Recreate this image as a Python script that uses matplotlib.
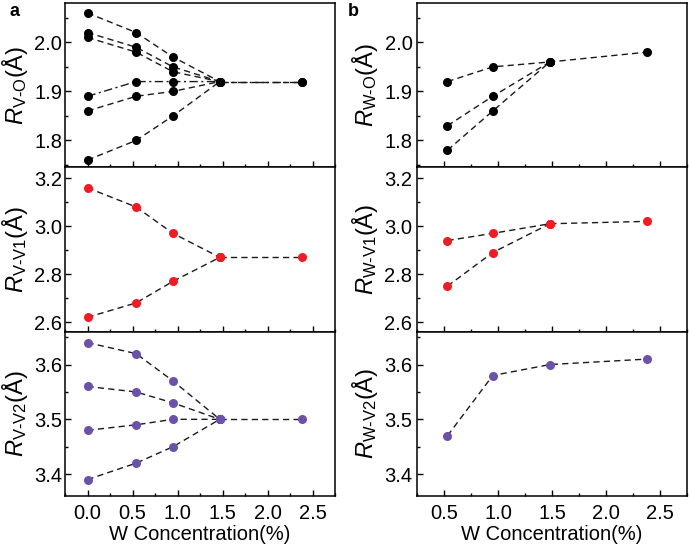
import matplotlib

matplotlib.use("Agg")
import matplotlib.pyplot as plt
from matplotlib.ticker import MultipleLocator, FormatStrFormatter

plt.rcParams["font.family"] = ["Liberation Sans", "DejaVu Sans"]
plt.rcParams["mathtext.fontset"] = "custom"
plt.rcParams["mathtext.rm"] = "Liberation Sans"
plt.rcParams["mathtext.it"] = "Liberation Sans:italic"

# --- panel a: V-centred distances vs W concentration ---
X_A = [0.0, 0.54, 0.95, 1.47]
X_A_TAIL = [1.47, 2.38]
VO_A = [
    [2.06, 2.02, 1.97, 1.92],
    [2.02, 1.99, 1.95, 1.92],
    [2.01, 1.98, 1.94, 1.92],
    [1.86, 1.89, 1.90, 1.92],
    [1.76, 1.80, 1.85, 1.92],
]
VO_A_DASHDOT = [1.89, 1.92, 1.92, 1.92]
VO_A_TAIL = [1.92, 1.92]
VV1_A = [
    [3.16, 3.08, 2.97, 2.87],
    [2.62, 2.68, 2.77, 2.87],
]
VV1_A_TAIL = [2.87, 2.87]
VV2_A = [
    [3.64, 3.62, 3.57, 3.50],
    [3.56, 3.55, 3.53, 3.50],
    [3.48, 3.49, 3.50, 3.50],
    [3.39, 3.42, 3.45, 3.50],
]
VV2_A_TAIL = [3.50, 3.50]

# --- panel b: W-centred distances ---
X_B = [0.53, 0.95, 1.48, 2.38]
WO_B = [
    [1.92, 1.95, 1.96, 1.98],
    [1.83, 1.89, 1.96],
    [1.78, 1.86, 1.96],
]
WV1_B = [
    [2.94, 2.97, 3.01, 3.02],
    [2.75, 2.89, 3.01],
]
WV2_B = [[3.47, 3.58, 3.60, 3.61]]

BLACK = "#000000"
RED = "#ee1c24"
PURPLE = "#6b51a8"
LINE = "#1a1a1a"

LABELS_A = [r"$R_{\text{V-O}}$(Å)", r"$R_{\text{V-V1}}$(Å)", r"$R_{\text{V-V2}}$(Å)"]
LABELS_B = [r"$R_{\text{W-O}}$(Å)", r"$R_{\text{W-V1}}$(Å)", r"$R_{\text{W-V2}}$(Å)"]
YLIMS = [(1.745, 2.08), (2.56, 3.245), (3.36, 3.66)]
YMAJ = [0.1, 0.2, 0.1]

DASH = (4.5, 3)


def draw(ax, xs, series, color, ls="dashed"):
    for ys in series:
        kw = dict(dashes=DASH) if ls == "dashed" else dict(dashes=(6, 2.5, 1.5, 2.5))
        ax.plot(xs[:len(ys)], ys, color=LINE, lw=1.0, zorder=1, **kw)
        ax.plot(xs[:len(ys)], ys, ls="none", marker="o", ms=6.5, mew=0,
                color=color, zorder=3)


fig = plt.figure(figsize=(6.89, 5.45), dpi=100)
H = 164.3 / 545
BOT = 1 - 496 / 545
axes_a = [fig.add_axes([65 / 689, BOT + (2 - i) * H, 270 / 689, H]) for i in range(3)]
axes_b = [fig.add_axes([417.3 / 689, BOT + (2 - i) * H, 269.4 / 689, H]) for i in range(3)]

draw(axes_a[0], X_A, VO_A, BLACK)
draw(axes_a[0], X_A, [VO_A_DASHDOT], BLACK, ls="dashdot")
draw(axes_a[0], X_A_TAIL, [VO_A_TAIL], BLACK)
draw(axes_a[0], X_A_TAIL, [VO_A_TAIL], BLACK, ls="dashdot")
draw(axes_a[1], X_A, VV1_A, RED)
draw(axes_a[1], X_A_TAIL, [VV1_A_TAIL], RED)
draw(axes_a[2], X_A, VV2_A, PURPLE)
draw(axes_a[2], X_A_TAIL, [VV2_A_TAIL], PURPLE)

draw(axes_b[0], X_B, WO_B, BLACK)
draw(axes_b[1], X_B, WV1_B, RED)
draw(axes_b[2], X_B, WV2_B, PURPLE)

for col, (axes, labels, xlim, xstart, lx) in enumerate(
    [(axes_a, LABELS_A, (-0.25, 2.75), 0.0, -0.13),
     (axes_b, LABELS_B, (0.25, 2.75), 0.5, -0.138)]
):
    for i, ax in enumerate(axes):
        ax.set_xlim(*xlim)
        ax.set_ylim(*YLIMS[i])
        ax.xaxis.set_major_locator(MultipleLocator(0.5))
        ax.xaxis.set_minor_locator(MultipleLocator(0.25))
        ax.yaxis.set_major_locator(MultipleLocator(YMAJ[i]))
        ax.yaxis.set_minor_locator(MultipleLocator(YMAJ[i] / 2))
        ax.tick_params(which="both", direction="in", top=False, right=False,
                       width=1.0, labelsize=14.5)
        ax.tick_params(which="major", length=4)
        ax.tick_params(which="minor", length=2.2)
        ax.tick_params(axis="y", pad=2 if col == 0 else 3.5)
        ax.tick_params(axis="x", pad=6)
        for sp in ax.spines.values():
            sp.set_linewidth(1.1)
        ax.set_ylabel(labels[i], fontsize=17)
        ax.yaxis.set_label_coords(lx, 0.5)
        if i < 2:
            ax.tick_params(axis="x", labelbottom=False)
        else:
            ax.set_xlabel("W Concentration(%)", fontsize=14.5, labelpad=1)
            ax.set_xticks([t for t in [0.0, 0.5, 1.0, 1.5, 2.0, 2.5] if t >= xstart])
            ax.xaxis.set_minor_locator(MultipleLocator(0.25))
        ax.yaxis.set_major_formatter(FormatStrFormatter("%.1f"))
        ax.xaxis.set_major_formatter(FormatStrFormatter("%.1f"))

fig.text(10 / 689, 1 - 16 / 545, "a", fontsize=13, fontweight="bold")
fig.text(348 / 689, 1 - 16 / 545, "b", fontsize=13, fontweight="bold")

fig.savefig("out.png", dpi=100)
